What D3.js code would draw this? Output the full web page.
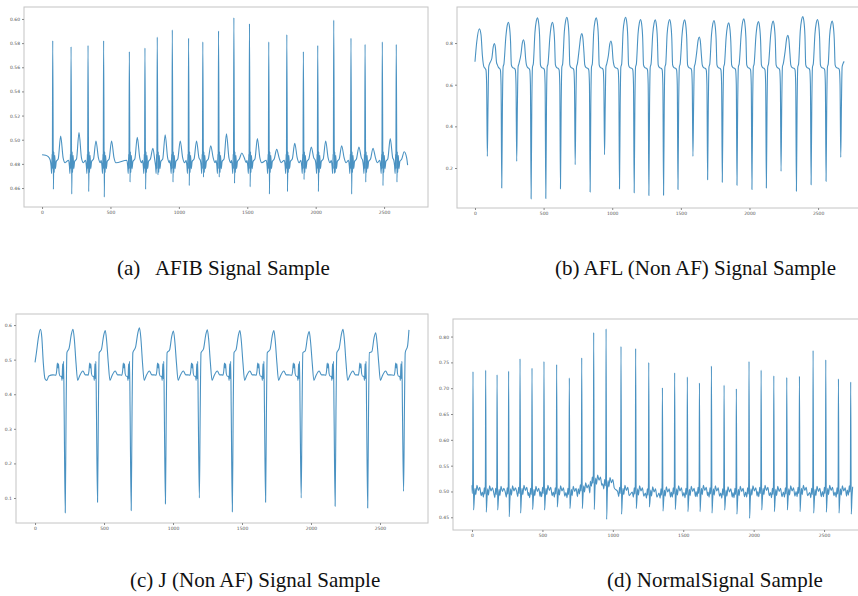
<!DOCTYPE html>
<html>
<head>
<meta charset="utf-8">
<script src="https://cdn.jsdelivr.net/npm/d3@7"></script>
<style>
  body { margin: 0; background: #fff; }
  svg { display: block; }
</style>
</head>
<body>
<svg width="858" height="596"></svg>
<script>
// ---- panel (a) AFIB: R peak position / R, S, T levels per beat
const aBeatX = [78, 212, 336, 450, 638, 752, 842, 952, 1071, 1175, 1290, 1402, 1516, 1657, 1789, 1910, 2015, 2132, 2258, 2361, 2487, 2589];
const aR = [0.582, 0.577, 0.578, 0.582, 0.573, 0.576, 0.585, 0.591, 0.584, 0.581, 0.590, 0.601, 0.596, 0.581, 0.587, 0.573, 0.578, 0.599, 0.584, 0.579, 0.581, 0.579];
const aS = [0.459, 0.455, 0.457, 0.4525, 0.465, 0.459, 0.471, 0.465, 0.462, 0.469, 0.469, 0.464, 0.461, 0.455, 0.457, 0.467, 0.457, 0.472, 0.455, 0.465, 0.462, 0.465];
const aT = [0.503, 0.506, 0.499, 0.499, 0.502, 0.493, 0.504, 0.499, 0.499, 0.495, 0.505, 0.489, 0.501, 0.492, 0.497, 0.494, 0.499, 0.495, 0.494, 0.493, 0.501, 0.490];
const aHead = [[0, 0.4876], [25, 0.4872], [45, 0.486]];
const aTail = [[2672, 0.479]];
const aShape = [["x", -18, 0.483], ["x", -12, 0.478], ["x", -8, 0.472], ["x", -5, 0.488], ["x", -3, 0.476], ["x", 0, "R"], ["x", 5, "S"],
  ["x", 8, 0.49], ["x", 11, 0.473], ["x", 15, 0.487], ["x", 20, 0.476], ["x", 26, 0.482], ["x", 40, 0.484], ["x", 58, "T"], ["x", 76, 0.485], ["x", 90, 0.481]];
const aXTicks = [0, 500, 1000, 1500, 2000, 2500];
const aYTicks = [0.46, 0.48, 0.50, 0.52, 0.54, 0.56, 0.58, 0.60];

// ---- panel (b) AFL: trough position/level, following peak position/level
const bTroughX = [90, 195, 304, 409, 516, 623, 730, 839, 944, 1053, 1160, 1267, 1374, 1479, 1588, 1695, 1802, 1909, 2018, 2123, 2230, 2342, 2449, 2558, 2665];
const bTroughY = [0.256, 0.104, 0.232, 0.052, 0.054, 0.100, 0.216, 0.085, 0.264, 0.100, 0.081, 0.068, 0.069, 0.097, 0.256, 0.144, 0.132, 0.117, 0.097, 0.104, 0.184, 0.089, 0.120, 0.136, 0.251];
const bPeakX = [141, 243, 353, 455, 564, 669, 778, 883, 990, 1097, 1206, 1313, 1418, 1527, 1634, 1741, 1848, 1958, 2065, 2172, 2279, 2388, 2495, 2602];
const bPeakY = [0.797, 0.900, 0.816, 0.921, 0.900, 0.924, 0.845, 0.921, 0.810, 0.924, 0.913, 0.911, 0.913, 0.911, 0.829, 0.908, 0.897, 0.916, 0.903, 0.905, 0.837, 0.927, 0.913, 0.905];
const bHead = [[0, 0.71], [12, 0.80], [32, 0.868], [44, 0.84], [54, 0.74], [64, 0.688]];
const bTail = [[2690, 0.712]];
const bShape = [["x", -16, 0.678], ["x", -10, 0.671], ["x", -5, 0.60], ["x", 0, "S"], ["x", 5, 0.50], ["x", 10, 0.685], ["x", 16, 0.70],
  ["p", -18, "P", -0.07], ["p", -8, "P", -0.015], ["p", 0, "P"], ["p", 8, "P", -0.02], ["p", 16, "P", -0.09], ["p", 22, 0.695], ["p", 30, 0.683]];
const bXTicks = [0, 500, 1000, 1500, 2000, 2500];
const bYTicks = [0.2, 0.4, 0.6, 0.8];

// ---- panel (c) J: trough position/level, following peak position/level
const cTroughX = [219, 453, 697, 945, 1191, 1430, 1671, 1929, 2175, 2411, 2671];
const cTroughY = [0.057, 0.0875, 0.0635, 0.083, 0.100, 0.060, 0.0875, 0.100, 0.076, 0.071, 0.119];
const cPeakX = [275, 509, 757, 1003, 1249, 1485, 1731, 1987, 2232, 2469];
const cPeakY = [0.588, 0.584, 0.592, 0.583, 0.586, 0.584, 0.584, 0.581, 0.5875, 0.578];
const cHead = [[0, 0.492], [10, 0.52], [25, 0.565], [39, 0.588], [49, 0.565], [60, 0.49], [72, 0.445], [85, 0.44], [100, 0.453], [130, 0.456]];
const cTail = [[2700, 0.54], [2710, 0.586]];
const cShape = [["x", -68, 0.455], ["x", -62, 0.468], ["x", -57, 0.49], ["x", -53, 0.476], ["x", -49, 0.488], ["x", -44, 0.46], ["x", -36, 0.452],
  ["x", -28, 0.452], ["x", -23, 0.44], ["x", -19, 0.488], ["x", -16, 0.445], ["x", -12, 0.495], ["x", -8, 0.35], ["x", 0, "S"], ["x", 6, 0.35], ["x", 12, 0.52],
  ["p", -28, "P", -0.055], ["p", -12, "P", -0.015], ["p", 0, "P"], ["p", 10, "P", -0.03], ["p", 22, 0.49], ["p", 34, 0.44], ["p", 48, 0.453],
  ["p", 72, 0.467], ["p", 90, 0.456], ["p", 105, 0.456]];
const cXTicks = [0, 500, 1000, 1500, 2000, 2500];
const cYTicks = [0.1, 0.2, 0.3, 0.4, 0.5, 0.6];

// ---- panel (d) Normal: spike position, spike top, trough, local baseline
const dBeatX = [7, 97, 178, 260, 341, 426, 511, 601, 691, 779, 864, 952, 1058, 1162, 1255, 1352, 1439, 1529, 1615, 1700, 1790, 1877, 1967, 2053, 2143, 2235, 2325, 2422, 2512, 2602, 2689];
const dR = [0.732, 0.735, 0.726, 0.733, 0.757, 0.739, 0.752, 0.746, 0.720, 0.759, 0.808, 0.815, 0.781, 0.777, 0.750, 0.701, 0.730, 0.722, 0.710, 0.743, 0.706, 0.699, 0.752, 0.735, 0.724, 0.721, 0.723, 0.773, 0.755, 0.718, 0.712];
const dS = [0.464, 0.460, 0.464, 0.451, 0.458, 0.465, 0.464, 0.470, 0.467, 0.467, 0.465, 0.446, 0.456, 0.467, 0.470, 0.462, 0.465, 0.461, 0.461, 0.458, 0.464, 0.456, 0.448, 0.464, 0.461, 0.464, 0.461, 0.458, 0.460, 0.458, 0.456];
const dL = [0.500, 0.499, 0.498, 0.499, 0.500, 0.498, 0.500, 0.499, 0.498, 0.505, 0.520, 0.515, 0.500, 0.499, 0.497, 0.497, 0.499, 0.498, 0.500, 0.499, 0.497, 0.498, 0.499, 0.500, 0.498, 0.499, 0.500, 0.498, 0.500, 0.499, 0.503];
const dHead = [[0, 0.512]];
const dTail = [];
const dShape = [["x", -24, "L"], ["x", -16, "L", -0.01], ["x", -10, "L", 0.008], ["x", -5, "L", -0.004], ["x", -2, "L", 0.022], ["x", 0, "R"], ["x", 4, "S"],
  ["x", 9, "L", -0.015], ["x", 14, "L", 0.006], ["x", 20, "L", -0.006], ["x", 28, "L", 0.012], ["x", 38, "L", 0.002], ["x", 48, "L", 0.008], ["x", 58, "L", -0.008]];
const dXTicks = [0, 500, 1000, 1500, 2000, 2500];
const dYTicks = [0.45, 0.50, 0.55, 0.60, 0.65, 0.70, 0.75, 0.80];

// turn beat tables + shape into a sorted point list
function build(beats, shape, head, tail, end) {
  const firstDx = d3.min(shape.filter(s => s[0] === "x"), s => s[1]);
  const headMax = head.length ? head[head.length - 1][0] : -Infinity;
  let pts = head.slice();
  beats.forEach((b, i) => {
    const lim = i < beats.length - 1 ? beats[i + 1].x + firstDx : end;
    shape.forEach(([anchor, dx, level, add]) => {
      if (b[anchor] === undefined) return;
      const v = typeof level === "string" ? b[level] : level;
      const px = b[anchor] + dx;
      if (px > headMax && px < lim) pts.push([px, v + (add || 0)]);
    });
  });
  pts = pts.concat(tail).sort((p, q) => p[0] - q[0]);
  return pts.filter((p, i) => i === 0 || p[0] > pts[i - 1][0]);
}

const seriesA = build(aBeatX.map((x, i) => ({x, R: aR[i], S: aS[i], T: aT[i]})), aShape, aHead, aTail, 2672);
const seriesB = build(bTroughX.map((x, i) => ({x, S: bTroughY[i], p: bPeakX[i], P: bPeakY[i]})), bShape, bHead, bTail, 2690);
const seriesC = build(cTroughX.map((x, i) => ({x, S: cTroughY[i], p: cPeakX[i], P: cPeakY[i]})), cShape, cHead, cTail, 2700);
const seriesD = build(dBeatX.map((x, i) => ({x, R: dR[i], S: dS[i], L: dL[i]})), dShape, dHead, dTail, 2704);

const svg = d3.select("svg");
svg.append("rect").attr("width", 858).attr("height", 596).attr("fill", "#fff");

const panels = [
  {data: seriesA, box: [24, 428, 7, 207], xDom: [-132, 2821], yDom: [0.4443, 0.6099], xt: aXTicks, yt: aYTicks, fmt: ".2f",
   cap: "(a)   AFIB Signal Sample", capX: 117, capY: 275},
  {data: seriesB, box: [457, 859, 7, 208], xDom: [-131, 2798], yDom: [0.008, 0.973], xt: bXTicks, yt: bYTicks, fmt: ".1f",
   cap: "(b) AFL (Non AF) Signal Sample", capX: 555, capY: 275},
  {data: seriesC, box: [16, 428, 314, 523], xDom: [-138, 2848], yDom: [0.0277, 0.632], xt: cXTicks, yt: cYTicks, fmt: ".1f",
   cap: "(c) J (Non AF) Signal Sample", capX: 130, capY: 587},
  {data: seriesD, box: [453, 859, 319, 530], xDom: [-135, 2748], yDom: [0.4254, 0.834], xt: dXTicks, yt: dYTicks, fmt: ".2f",
   cap: "(d) NormalSignal Sample", capX: 607, capY: 587}
];

panels.forEach(p => {
  const [l, r, t, b] = p.box;
  const x = d3.scaleLinear().domain(p.xDom).range([l, r]);
  const y = d3.scaleLinear().domain(p.yDom).range([b, t]);
  const g = svg.append("g");

  g.append("rect").attr("x", l).attr("y", t).attr("width", r - l).attr("height", b - t)
    .attr("fill", "#fff").attr("stroke", "#c4c4c4").attr("stroke-width", 1);

  const line = d3.line().x(d => x(d[0])).y(d => y(d[1])).curve(d3.curveMonotoneX);
  g.append("path").datum(p.data).attr("d", line)
    .attr("fill", "none").attr("stroke", "#4a92c2").attr("stroke-width", 1.1).attr("stroke-linejoin", "round");

  const xa = g.append("g").attr("transform", `translate(0,${b})`)
    .call(d3.axisBottom(x).tickValues(p.xt).tickSize(2).tickPadding(2).tickFormat(d3.format("d")));
  const ya = g.append("g").attr("transform", `translate(${l},0)`)
    .call(d3.axisLeft(y).tickValues(p.yt).tickSize(2).tickPadding(2).tickFormat(d3.format(p.fmt)));
  [xa, ya].forEach(a => {
    a.select(".domain").remove();
    a.selectAll("line").attr("stroke", "#888");
    a.selectAll("text").attr("fill", "#555").style("font-size", "4.5px").style("font-family", "DejaVu Sans");
  });

  svg.append("text").attr("x", p.capX).attr("y", p.capY).text(p.cap)
    .style("white-space", "pre")
    .style("font-family", "Liberation Serif").style("font-size", "21px").attr("fill", "#111");
});
</script>
</body>
</html>
